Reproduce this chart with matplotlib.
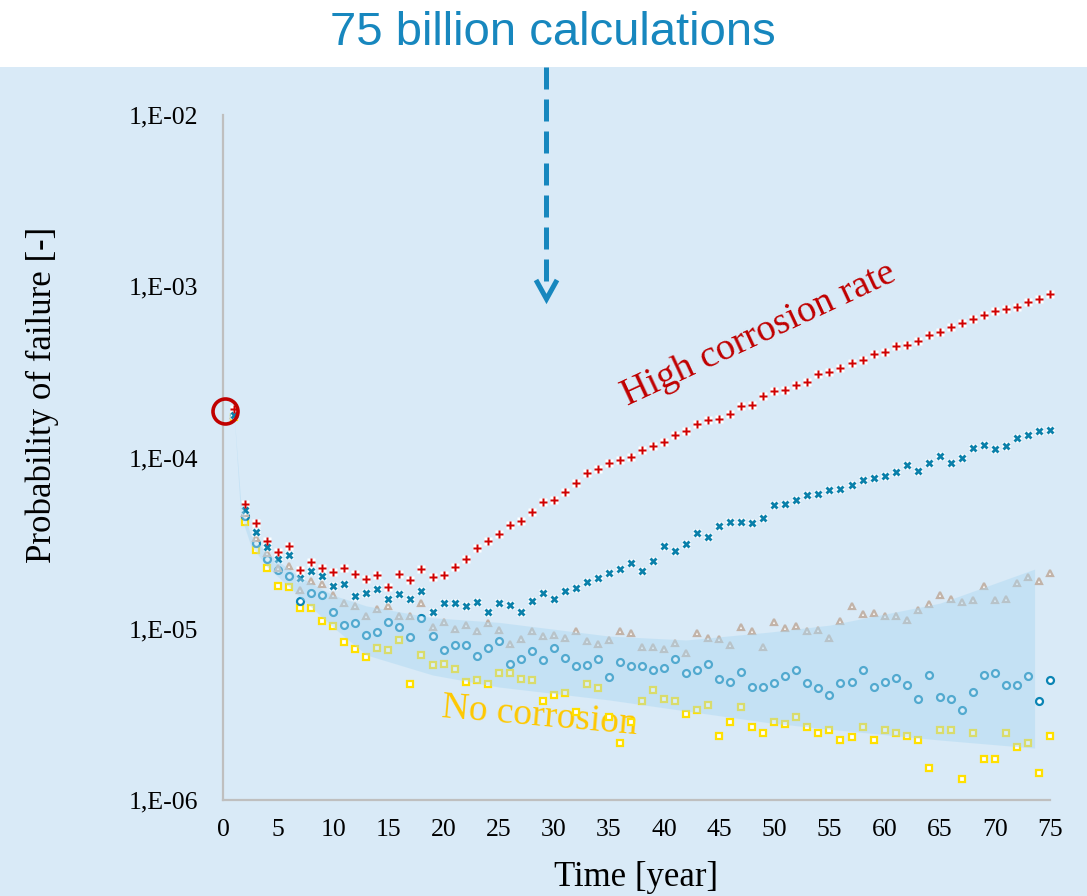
import matplotlib
matplotlib.use("Agg")
import matplotlib.pyplot as plt
from matplotlib.lines import Line2D
from matplotlib.patches import Rectangle
import numpy as np

# --- data (t = 1..75 years) ---
years = list(range(1, 76))

high_corrosion = [1.92e-4, 5.35e-5, 4.13e-5, 3.27e-5, 2.82e-5, 3.06e-5, 2.20e-5, 2.44e-5, 2.25e-5, 2.15e-5,
                  2.25e-5, 2.08e-5, 1.95e-5, 2.07e-5, 1.76e-5, 2.08e-5, 1.93e-5, 2.23e-5, 2.00e-5, 2.05e-5,
                  2.30e-5, 2.55e-5, 2.96e-5, 3.26e-5, 3.57e-5, 4.05e-5, 4.26e-5, 4.80e-5, 5.47e-5, 5.65e-5,
                  6.30e-5, 7.10e-5, 8.09e-5, 8.57e-5, 9.33e-5, 9.70e-5, 1.00e-4, 1.11e-4, 1.17e-4, 1.24e-4,
                  1.35e-4, 1.43e-4, 1.57e-4, 1.66e-4, 1.67e-4, 1.80e-4, 2.01e-4, 2.03e-4, 2.29e-4, 2.43e-4,
                  2.49e-4, 2.65e-4, 2.76e-4, 3.09e-4, 3.15e-4, 3.33e-4, 3.58e-4, 3.71e-4, 4.02e-4, 4.15e-4,
                  4.46e-4, 4.56e-4, 4.81e-4, 5.21e-4, 5.41e-4, 5.78e-4, 6.13e-4, 6.41e-4, 6.77e-4, 7.17e-4,
                  7.40e-4, 7.57e-4, 8.13e-4, 8.47e-4, 9.02e-4]

medium_corrosion = [1.78e-4, 4.93e-5, 3.69e-5, 3.01e-5, 2.57e-5, 2.68e-5, 1.97e-5, 2.17e-5, 2.02e-5, 1.78e-5,
                    1.82e-5, 1.56e-5, 1.61e-5, 1.70e-5, 1.49e-5, 1.60e-5, 1.49e-5, 1.66e-5, 1.25e-5, 1.41e-5,
                    1.42e-5, 1.36e-5, 1.43e-5, 1.26e-5, 1.42e-5, 1.38e-5, 1.25e-5, 1.46e-5, 1.61e-5, 1.50e-5,
                    1.66e-5, 1.72e-5, 1.87e-5, 1.98e-5, 2.13e-5, 2.24e-5, 2.41e-5, 2.17e-5, 2.48e-5, 3.04e-5,
                    2.86e-5, 3.14e-5, 3.64e-5, 3.42e-5, 3.98e-5, 4.20e-5, 4.20e-5, 4.16e-5, 4.45e-5, 5.26e-5,
                    5.33e-5, 5.62e-5, 6.04e-5, 6.15e-5, 6.46e-5, 6.54e-5, 6.89e-5, 7.36e-5, 7.56e-5, 7.77e-5,
                    8.20e-5, 9.04e-5, 8.34e-5, 9.33e-5, 1.02e-4, 9.26e-5, 9.94e-5, 1.13e-4, 1.19e-4, 1.12e-4,
                    1.17e-4, 1.30e-4, 1.35e-4, 1.43e-4, 1.45e-4]

low_corrosion = [1.78e-4, 4.75e-5, 3.37e-5, 2.76e-5, 2.25e-5, 2.34e-5, 1.68e-5, 1.90e-5, 1.82e-5, 1.57e-5,
                 1.41e-5, 1.35e-5, 1.18e-5, 1.30e-5, 1.35e-5, 1.18e-5, 1.19e-5, 1.42e-5, 1.03e-5, 1.09e-5,
                 1.00e-5, 1.05e-5, 9.75e-6, 1.08e-5, 9.84e-6, 8.15e-6, 8.71e-6, 9.75e-6, 9.08e-6, 9.20e-6,
                 8.87e-6, 9.70e-6, 8.49e-6, 8.12e-6, 8.59e-6, 9.70e-6, 9.48e-6, 7.87e-6, 7.87e-6, 7.66e-6,
                 8.30e-6, 7.26e-6, 9.48e-6, 8.80e-6, 8.67e-6, 8.03e-6, 1.02e-5, 9.75e-6, 7.87e-6, 1.10e-5,
                 1.01e-5, 1.04e-5, 9.75e-6, 9.84e-6, 8.83e-6, 1.11e-5, 1.35e-5, 1.22e-5, 1.24e-5, 1.19e-5,
                 1.19e-5, 1.13e-5, 1.28e-5, 1.40e-5, 1.57e-5, 1.49e-5, 1.43e-5, 1.47e-5, 1.77e-5, 1.47e-5,
                 1.49e-5, 1.84e-5, 2.00e-5, 1.89e-5, 2.13e-5]

very_low_corrosion = [1.78e-4, 4.57e-5, 3.18e-5, 2.55e-5, 2.20e-5, 2.02e-5, 1.46e-5, 1.62e-5, 1.57e-5, 1.25e-5,
                      1.05e-5, 1.08e-5, 9.20e-6, 9.60e-6, 1.09e-5, 1.03e-5, 9.00e-6, 1.15e-5, 9.12e-6, 7.55e-6,
                      8.07e-6, 8.07e-6, 6.93e-6, 7.76e-6, 8.47e-6, 6.22e-6, 6.65e-6, 7.38e-6, 6.54e-6, 7.69e-6,
                      6.75e-6, 6.03e-6, 6.14e-6, 6.65e-6, 5.21e-6, 6.37e-6, 6.03e-6, 6.03e-6, 5.74e-6, 5.93e-6,
                      6.65e-6, 5.54e-6, 5.74e-6, 6.25e-6, 5.11e-6, 4.89e-6, 5.62e-6, 4.59e-6, 4.59e-6, 4.81e-6,
                      5.33e-6, 5.72e-6, 4.81e-6, 4.51e-6, 4.10e-6, 4.81e-6, 4.89e-6, 5.72e-6, 4.59e-6, 4.89e-6,
                      5.14e-6, 4.72e-6, 3.89e-6, 5.40e-6, 4.00e-6, 3.89e-6, 3.37e-6, 4.29e-6, 5.40e-6, 5.52e-6,
                      4.72e-6, 4.72e-6, 5.33e-6, 3.79e-6, 5.00e-6]

no_corrosion = [1.73e-4, 4.22e-5, 2.88e-5, 2.27e-5, 1.78e-5, 1.76e-5, 1.33e-5, 1.33e-5, 1.11e-5, 1.04e-5,
                8.38e-6, 7.58e-6, 6.84e-6, 7.76e-6, 7.48e-6, 8.57e-6, 4.78e-6, 7.06e-6, 6.14e-6, 6.25e-6,
                5.82e-6, 4.89e-6, 5.02e-6, 4.78e-6, 5.54e-6, 5.54e-6, 5.11e-6, 5.02e-6, 3.79e-6, 4.08e-6,
                4.20e-6, 3.28e-6, 4.78e-6, 4.51e-6, 3.07e-6, 2.14e-6, 2.85e-6, 3.79e-6, 4.41e-6, 3.89e-6,
                3.79e-6, 3.17e-6, 3.37e-6, 3.57e-6, 2.36e-6, 2.85e-6, 3.48e-6, 2.66e-6, 2.45e-6, 2.87e-6,
                2.77e-6, 3.07e-6, 2.66e-6, 2.45e-6, 2.56e-6, 2.24e-6, 2.34e-6, 2.66e-6, 2.24e-6, 2.56e-6,
                2.45e-6, 2.36e-6, 2.24e-6, 1.53e-6, 2.56e-6, 2.56e-6, 1.33e-6, 2.45e-6, 1.73e-6, 1.73e-6,
                2.45e-6, 2.04e-6, 2.15e-6, 1.43e-6, 2.36e-6]

# shaded uncertainty band
band_t = [1, 1.6, 2.5, 4, 7, 10, 13, 19, 25, 35, 42, 49.6, 55, 65, 73.6]
band_upper = [1.80e-4, 5.65e-5, 3.53e-5, 2.77e-5, 2.00e-5, 1.57e-5, 1.36e-5, 1.16e-5, 1.09e-5,
              9.07e-6, 8.60e-6, 9.57e-6, 1.05e-5, 1.41e-5, 2.23e-5]
band_lower = [1.80e-4, 4.61e-5, 3.08e-5, 2.30e-5, 1.53e-5, 1.02e-5, 7.03e-6, 5.37e-6, 4.57e-6,
              3.84e-6, 3.31e-6, 2.82e-6, 2.59e-6, 2.24e-6, 2.01e-6]

start_t, start_p = 0.2, 1.88e-4

xticks = list(range(0, 76, 5))
yticks = [1e-6, 1e-5, 1e-4, 1e-3, 1e-2]
ytick_labels = ["1,E-06", "1,E-05", "1,E-04", "1,E-03", "1,E-02"]

# --- figure ---
W, H = 1087, 896
BG = "#d9eaf7"
BLUE = "#1787be"
serif = ["Liberation Serif", "DejaVu Serif"]

fig = plt.figure(figsize=(W / 100, H / 100), dpi=100, facecolor=BG)
fig.patches.append(Rectangle((0, 1 - 67 / H), 1, 67 / H, transform=fig.transFigure,
                             facecolor="white", edgecolor="none", zorder=0))

ax = fig.add_axes([223 / W, 1 - 800 / H, (1050 - 223) / W, (800 - 115) / H])
ax.set_facecolor("none")
ax.set_yscale("log")
ax.set_xlim(0, 75)
ax.set_ylim(1e-6, 1e-2)

for s in ["top", "right"]:
    ax.spines[s].set_visible(False)
for s in ["left", "bottom"]:
    ax.spines[s].set_color("#bfbfbf")
    ax.spines[s].set_linewidth(1.6)

ax.set_xticks(xticks)
ax.set_xticklabels([str(x) for x in xticks], fontfamily=serif, fontsize=18.5)
ax.set_yticks(yticks)
ax.set_yticklabels(ytick_labels, fontfamily=serif, fontsize=18.5)
ax.yaxis.set_minor_locator(matplotlib.ticker.NullLocator())
ax.tick_params(axis="x", length=0, pad=14)
ax.tick_params(axis="y", length=0, pad=18)

ms = 4.6
# hollow markers
ax.plot(years, no_corrosion, ls="none", marker="s", ms=ms, mfc="white", mec="#ffe000",
        mew=1.6, zorder=2, clip_on=False)
ax.plot(years, very_low_corrosion, ls="none", marker="o", ms=ms + 0.4, mfc="white", mec="#0a84b4",
        mew=1.6, zorder=2, clip_on=False)
ax.plot(years, low_corrosion, ls="none", marker="^", ms=ms + 0.4, mfc="white", mec="#c2b3a8",
        mew=1.6, zorder=2, clip_on=False)
# filled markers on white boxes
ax.plot(years, medium_corrosion, ls="none", marker="s", ms=5.8, mfc="white", mec="none",
        zorder=2.1, clip_on=False)
ax.plot(years, medium_corrosion, ls="none", marker="X", ms=5.6, mfc="#0a80aa", mec="none",
        zorder=2.2, clip_on=False)
ax.plot(years, high_corrosion, ls="none", marker="s", ms=5.8, mfc="white", mec="none",
        zorder=2.1, clip_on=False)
ax.plot(years, high_corrosion, ls="none", marker="P", ms=5.2, mfc="#d00000", mec="none",
        zorder=2.2, clip_on=False)

# band on top, semi-transparent
ax.fill_between(band_t, band_lower, band_upper, color="#acd8f2", alpha=0.45, lw=0, zorder=3)

# start marker circle
ax.plot([start_t], [start_p], marker="o", ms=18, mfc="none", mec="#c00000", mew=2.6,
        zorder=4, clip_on=False)

ax.text(36.7, 2.0e-4, "High corrosion rate", color="#c00000", fontsize=27.5, fontfamily=serif,
        rotation=25, rotation_mode="anchor", ha="left", va="baseline", zorder=1.5)
ax.text(19.8, 3.05e-6, "No corrosion", color="#ffc800", fontsize=27, fontfamily=serif,
        rotation=-5, rotation_mode="anchor", ha="left", va="baseline", zorder=1.5)

# axis labels
fig.text(42 / W, 1 - 395 / H, "Probability of failure [-]", rotation=90, ha="center", va="center",
         fontsize=25, fontfamily=serif)
fig.text(636 / W, 1 - 877 / H, "Time [year]", ha="center", va="center",
         fontsize=25, fontfamily=serif)

# header
fig.text(553 / W, 1 - 33 / H, "75 billion calculations", ha="center", va="center", color=BLUE,
         fontsize=34, fontfamily=["Liberation Sans", "DejaVu Sans"])

# dashed arrow
ax_x = 546 / W
fig.add_artist(Line2D([ax_x, ax_x], [1 - 67 / H, 1 - 288 / H], transform=fig.transFigure,
                      color=BLUE, lw=3.6, dashes=(4.4, 2.0), solid_capstyle="butt"))
fig.add_artist(Line2D([536 / W, 546.5 / W, 557 / W], [1 - 280 / H, 1 - 299 / H, 1 - 280 / H],
                      transform=fig.transFigure, color=BLUE, lw=3.6, solid_joinstyle="miter",
                      solid_capstyle="butt"))

fig.savefig("out.png", dpi=100, facecolor=BG)
